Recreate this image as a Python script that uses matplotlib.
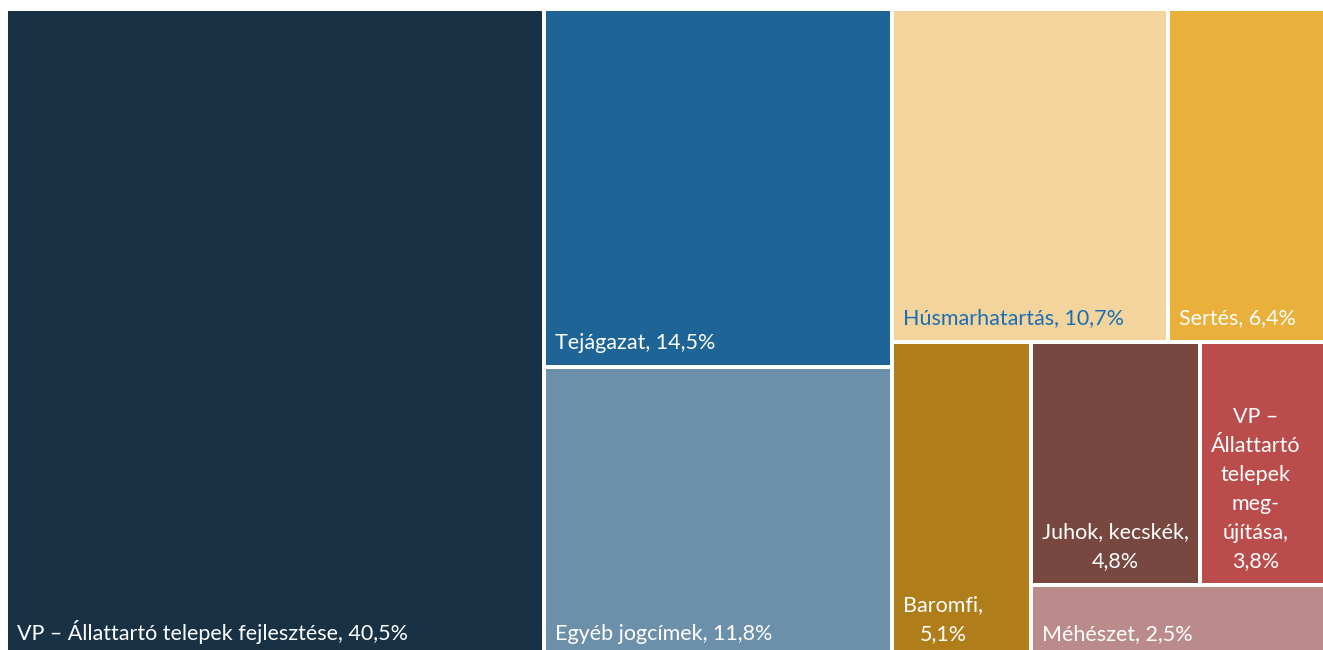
import matplotlib.pyplot as plt
from matplotlib.patches import Rectangle

plt.rcParams['font.family'] = ['Lato', 'DejaVu Sans']

names = ["VP – Állattartó telepek fejlesztése", "Tejágazat", "Egyéb jogcímek",
         "Húsmarhatartás", "Sertés", "Baromfi", "Juhok, kecskék",
         "VP –\nÁllattartó\ntelepek\nmeg-\nújítása", "Méhészet"]
shares = [40.5, 14.5, 11.8, 10.7, 6.4, 5.1, 4.8, 3.8, 2.5]
wrapped = [False, False, False, False, False, True, True, True, False]
colors = ["#183145", "#1F6496", "#6D90AA", "#F2D49C", "#E9B03C",
          "#AF7D19", "#774740", "#BA4C4B", "#BA8B8A"]
text_colors = ["white", "white", "white", "#1A6FB5", "white",
               "white", "white", "white", "white"]

# how many cells go into each strip of the treemap
row_sizes = [1, 2, 2, 1, 2, 1]

W, H = 1325, 645   # plot area in pixels
gap = 4


def layout(values, rows, x, y, w, h):
    rects = []
    total = sum(values)
    i = 0
    for n in rows:
        part = values[i:i + n]
        s = sum(part)
        if w >= h:
            # vertical strip on the left
            sw = w * s / total
            yy = y
            for v in part:
                hh = h * v / s
                rects.append((x, yy, sw, hh))
                yy += hh
            x += sw
            w -= sw
        else:
            # horizontal strip on top
            sh = h * s / total
            xx = x
            for v in part:
                ww = w * v / s
                rects.append((xx, y, ww, sh))
                xx += ww
            y += sh
            h -= sh
        total -= s
        i += n
    return rects


fig = plt.figure(figsize=(13.23, 6.5), dpi=100)
ax = fig.add_axes([8 / 1323, -6 / 650, W / 1323, H / 650])
ax.set_xlim(0, W)
ax.set_ylim(H, 0)
ax.axis('off')

for k, (x, y, w, h) in enumerate(layout(shares, row_sizes, 0, 0, W, H)):
    # inset only the inner edges so the outer border stays flush
    x0 = x + (gap / 2 if x > 0.5 else 0)
    y0 = y + (gap / 2 if y > 0.5 else 0)
    x1 = x + w - (gap / 2 if x + w < W - 0.5 else 0)
    y1 = y + h - (gap / 2 if y + h < H - 0.5 else 0)
    ax.add_patch(Rectangle((x0, y0), x1 - x0, y1 - y0, facecolor=colors[k],
                           edgecolor='none'))
    pct = f"{shares[k]:.1f}%".replace('.', ',')
    sep = ",\n" if wrapped[k] else ", "
    ax.text(x0 + 9, y1 - 16, names[k] + sep + pct, color=text_colors[k],
            fontsize=15.5, ha='left', va='baseline', multialignment='center',
            linespacing=1.55)

fig.savefig("out.png", dpi=100)
